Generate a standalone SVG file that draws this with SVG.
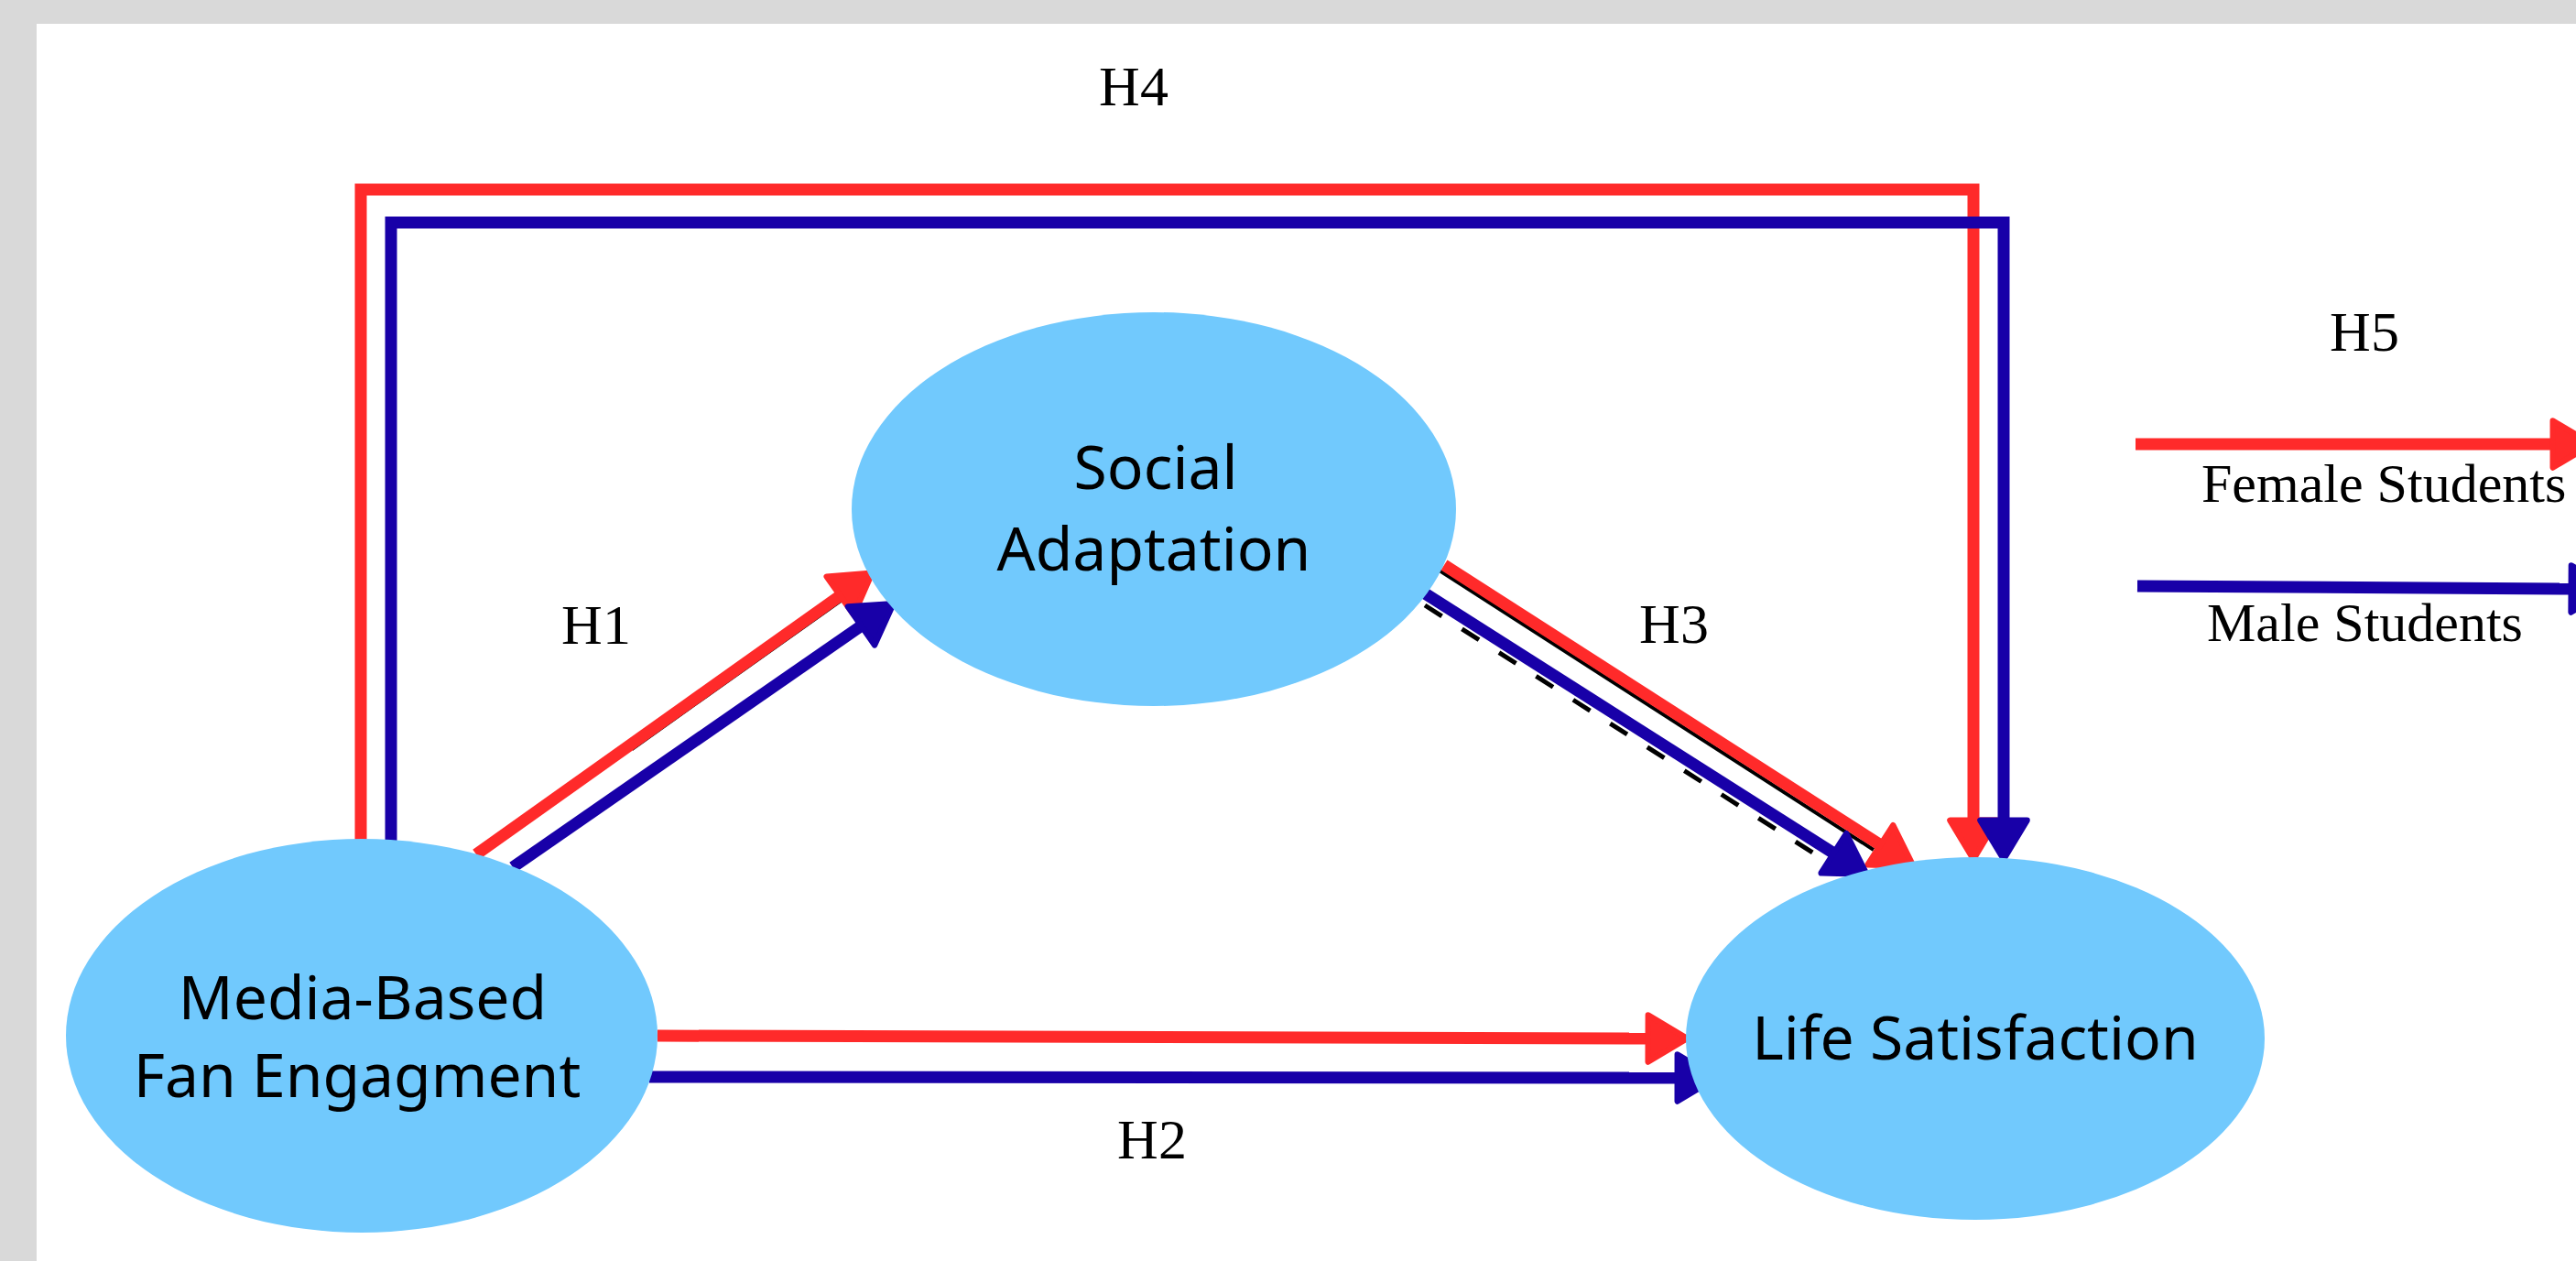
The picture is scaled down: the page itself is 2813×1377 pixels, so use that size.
<svg xmlns="http://www.w3.org/2000/svg" width="2813" height="1377" viewBox="0 0 2813 1377">
<style>
.node{fill:#71C9FD;}
.nt{font-family:"Noto Sans","Open Sans",sans-serif;font-size:66px;fill:#000;text-anchor:middle;}
.lbl{font-family:"Liberation Serif","Times New Roman",serif;font-size:62px;fill:#000;text-anchor:middle;}
.leg{font-family:"Liberation Serif","Times New Roman",serif;font-size:60px;fill:#000;}
.r{stroke:#FF2A2A;stroke-width:13;fill:none;}
.b{stroke:#1800A8;stroke-width:13;fill:none;}
.sh{stroke:#000;stroke-width:4;fill:none;}
.shd{stroke:#000;stroke-width:5;fill:none;stroke-dasharray:22 26;}
</style>
<defs>
<marker id="ar" markerUnits="userSpaceOnUse" markerWidth="56" markerHeight="64" viewBox="-4 -30 52 60" refX="4" refY="0" orient="auto">
<path d="M0,-24 L40,0 L0,24 Z" fill="#FF2A2A" stroke="#FF2A2A" stroke-width="6" stroke-linejoin="round"/>
</marker>
<marker id="ab" markerUnits="userSpaceOnUse" markerWidth="56" markerHeight="64" viewBox="-4 -30 52 60" refX="4" refY="0" orient="auto">
<path d="M0,-24 L40,0 L0,24 Z" fill="#1800A8" stroke="#1800A8" stroke-width="6" stroke-linejoin="round"/>
</marker>
</defs>
<rect x="0" y="0" width="2813" height="1377" fill="#D9D9D9"/>
<rect x="40" y="26" width="2773" height="1351" fill="#FFFFFF"/>

<g id="connectors">
<!-- H4 -->
<polyline class="r" points="394,918 394,207 2155,207 2155,900" marker-end="url(#ar)"/>
<polyline class="b" points="427,918 427,243 2188,243 2188,900" marker-end="url(#ab)"/>
<!-- H1 -->
<line class="sh" x1="690" y1="818" x2="925" y2="651"/>
<line class="r" x1="520" y1="933" x2="921" y2="648" marker-end="url(#ar)"/>
<line class="b" x1="560" y1="947" x2="944" y2="681" marker-end="url(#ab)"/>
<!-- H3 -->
<line class="sh" x1="1572" y1="623" x2="2046" y2="928"/>
<line class="shd" x1="1556" y1="661" x2="1995" y2="941"/>
<line class="r" x1="1577" y1="617" x2="2057" y2="925" marker-end="url(#ar)"/>
<line class="b" x1="1556" y1="648" x2="2006" y2="934" marker-end="url(#ab)"/>
<!-- H2 -->
<line class="r" x1="718" y1="1131" x2="1804" y2="1134" marker-end="url(#ar)"/>
<line class="b" x1="709" y1="1176" x2="1836" y2="1177" marker-end="url(#ab)"/>
<!-- Legend -->
<line class="r" x1="2332" y1="485" x2="2792" y2="485" marker-end="url(#ar)"/>
<line class="b" x1="2334" y1="640" x2="2812" y2="643" marker-end="url(#ab)"/>
</g>

<g id="node-social">
<ellipse class="node" cx="1260" cy="556" rx="330" ry="215"/>
<text class="nt" x="1262" y="534">Social</text>
<text class="nt" x="1260" y="623">Adaptation</text>
</g>
<g id="node-media">
<ellipse class="node" cx="395" cy="1131" rx="323" ry="215"/>
<text class="nt" x="396" y="1113">Media-Based</text>
<text class="nt" x="390" y="1198">Fan Engagment</text>
</g>
<g id="node-life">
<ellipse class="node" cx="2157" cy="1134" rx="316" ry="198"/>
<text class="nt" x="2157" y="1157">Life Satisfaction</text>
</g>

<g id="labels">
<text class="lbl" x="1238" y="115">H4</text>
<text class="lbl" x="651" y="703">H1</text>
<text class="lbl" x="1828" y="702">H3</text>
<text class="lbl" x="1258" y="1265">H2</text>
<text class="lbl" x="2582" y="383">H5</text>
<text class="leg" x="2404" y="548">Female Students</text>
<text class="leg" x="2410" y="700">Male Students</text>
</g>
</svg>
